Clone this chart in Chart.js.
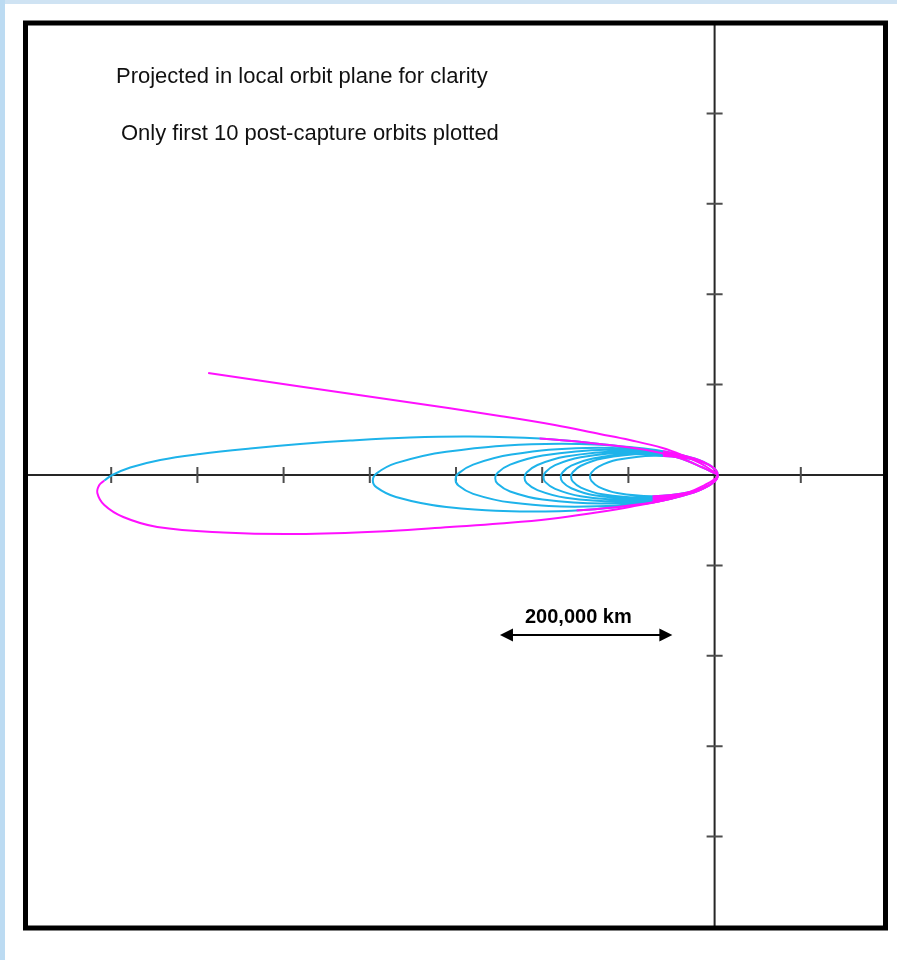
<!DOCTYPE html>
<html>
<head>
<meta charset="utf-8">
<title>Post-capture orbits</title>
<script src="https://cdn.jsdelivr.net/npm/chart.js@4/dist/chart.umd.min.js"></script>
<style>
  html, body { margin: 0; padding: 0; background: #fff; }
  canvas { display: block; }
</style>
</head>
<body>
<canvas id="orbits" width="897" height="960"></canvas>
<script>
// All coordinates in units of 100,000 km, planet centre at the origin.

// Axis tick positions (no labels are drawn)
const xTicks = [-7, -6, -5, -4, -3, -2, -1, 1];
const yTicks = [-4, -3, -2, -1, 1, 2, 3, 4];

// Arrival hyperbola, first periapsis pass and outbound leg of the capture orbit
const arrivalPath = [
  [-5.875, 1.128], [-4.809, 0.979], [-3.650, 0.819], [-2.491, 0.653], [-1.854, 0.553],
  [-1.333, 0.454], [-0.985, 0.387], [-0.603, 0.299], [-0.348, 0.210], [-0.174, 0.133],
  [-0.058, 0.066], [0.035, -0.005], [-0.023, -0.061], [-0.116, -0.111], [-0.290, -0.188],
  [-0.521, -0.265], [-0.985, -0.354], [-1.333, -0.409], [-1.912, -0.487], [-2.491, -0.537],
  [-3.071, -0.575], [-3.766, -0.619], [-4.844, -0.653], [-5.701, -0.636], [-6.466, -0.575],
  [-6.860, -0.465], [-7.080, -0.332], [-7.161, -0.199], [-7.138, -0.111], [-7.080, -0.061]
];

// Return leg of the capture orbit, from apoapsis back to periapsis
const orbit1Return = [
  [-7.080, -0.061], [-6.987, 0.000], [-6.779, 0.083], [-6.431, 0.166], [-5.968, 0.232],
  [-5.388, 0.293], [-4.809, 0.343], [-4.229, 0.382], [-3.534, 0.415], [-2.839, 0.426],
  [-2.028, 0.404], [-1.333, 0.343], [-0.788, 0.277], [-0.406, 0.188], [-0.139, 0.083],
  [-0.023, 0.028], [0.035, 0.000]
];

// Following orbits: outbound (lower) leg to apoapsis, then return (upper) leg to periapsis
const orbit2 = [
  [-0.009, -0.078], [-0.233, -0.191], [-0.818, -0.318], [-1.965, -0.403], [-3.112, -0.353],
  [-3.697, -0.243], [-3.921, -0.137], [-3.965, -0.060],
  [-3.921, 0.018], [-3.697, 0.131], [-3.112, 0.258], [-1.965, 0.343], [-0.818, 0.293],
  [-0.233, 0.183], [-0.009, 0.077], [0.035, 0.000]
];
const orbit3 = [
  [0.002, -0.068], [-0.169, -0.165], [-0.613, -0.276], [-1.485, -0.349], [-2.357, -0.305],
  [-2.801, -0.209], [-2.972, -0.117], [-3.005, -0.050],
  [-2.972, 0.018], [-2.801, 0.115], [-2.357, 0.226], [-1.485, 0.299], [-0.613, 0.255],
  [-0.169, 0.159], [0.002, 0.067], [0.035, 0.000]
];
const orbit4 = [
  [0.007, -0.062], [-0.138, -0.151], [-0.515, -0.252], [-1.255, -0.316], [-1.995, -0.272],
  [-2.372, -0.183], [-2.517, -0.098], [-2.545, -0.036],
  [-2.517, 0.026], [-2.372, 0.115], [-1.995, 0.216], [-1.255, 0.280], [-0.515, 0.236],
  [-0.138, 0.147], [0.007, 0.062], [0.035, 0.000]
];
const orbit5 = [
  [0.011, -0.058], [-0.115, -0.141], [-0.443, -0.234], [-1.085, -0.293], [-1.727, -0.251],
  [-2.055, -0.167], [-2.181, -0.088], [-2.205, -0.030],
  [-2.181, 0.028], [-2.055, 0.111], [-1.727, 0.204], [-1.085, 0.263], [-0.443, 0.221],
  [-0.115, 0.137], [0.011, 0.058], [0.035, 0.000]
];
const orbit6 = [
  [0.013, -0.055], [-0.100, -0.134], [-0.396, -0.221], [-0.975, -0.276], [-1.554, -0.235],
  [-1.850, -0.154], [-1.963, -0.079], [-1.985, -0.024],
  [-1.963, 0.031], [-1.850, 0.110], [-1.554, 0.197], [-0.975, 0.252], [-0.396, 0.211],
  [-0.100, 0.130], [0.013, 0.055], [0.035, 0.000]
];
const orbit7 = [
  [0.015, -0.052], [-0.087, -0.127], [-0.353, -0.210], [-0.875, -0.262], [-1.397, -0.224],
  [-1.663, -0.147], [-1.765, -0.076], [-1.785, -0.024],
  [-1.765, 0.028], [-1.663, 0.103], [-1.397, 0.186], [-0.875, 0.238], [-0.353, 0.200],
  [-0.087, 0.123], [0.015, 0.052], [0.035, 0.000]
];
const orbit8 = [
  [0.016, -0.050], [-0.079, -0.122], [-0.327, -0.202], [-0.815, -0.251], [-1.303, -0.213],
  [-1.551, -0.139], [-1.646, -0.070], [-1.665, -0.020],
  [-1.646, 0.030], [-1.551, 0.102], [-1.303, 0.182], [-0.815, 0.231], [-0.327, 0.193],
  [-0.079, 0.119], [0.016, 0.050], [0.035, 0.000]
];
const orbit9 = [
  [0.019, -0.047], [-0.064, -0.113], [-0.281, -0.188], [-0.705, -0.234], [-1.130, -0.199],
  [-1.346, -0.131], [-1.429, -0.066], [-1.445, -0.020],
  [-1.429, 0.027], [-1.346, 0.093], [-1.130, 0.168], [-0.705, 0.214], [-0.281, 0.179],
  [-0.064, 0.111], [0.019, 0.046], [0.035, 0.000]
];

const BLUE = '#1eb3ea';
const MAGENTA = '#ff10ff';

const toPoints = arr => arr.map(([x, y]) => ({ x, y }));
const laterOrbits = [orbit2, orbit3, orbit4, orbit5, orbit6, orbit7, orbit8, orbit9];
const postCaptureTrack = orbit1Return.concat(...laterOrbits);
// Periapsis passages highlighted on top of the track
const firstPass = orbit1Return.concat(orbit2.slice(0, 8));
const laterPasses = orbit2.slice(8).concat(...laterOrbits.slice(1));

const lineStyle = {
  showLine: true, pointRadius: 0, pointHoverRadius: 0,
  borderWidth: 2, tension: 0.4, fill: false
};

// Restrict a dataset to the region right of its window edges (upper / lower half)
const passWindow = {
  id: 'passWindow',
  beforeDatasetDraw(chart, args) {
    const w = chart.data.datasets[args.index].passWindow;
    if (!w) return;
    const { ctx, chartArea: a, scales: { x, y } } = chart;
    const y0 = y.getPixelForValue(0);
    const xu = x.getPixelForValue(w[0]);
    const xl = x.getPixelForValue(w[1]);
    ctx.save();
    ctx.beginPath();
    ctx.rect(xu, a.top, a.right - xu, y0 - a.top);
    ctx.rect(xl, y0, a.right - xl, a.bottom - y0);
    ctx.clip();
  },
  afterDatasetDraw(chart, args) {
    if (chart.data.datasets[args.index].passWindow) chart.ctx.restore();
  }
};

// Page background, axes through the origin, tick marks
const axesThroughOrigin = {
  id: 'axesThroughOrigin',
  beforeDraw(chart) {
    const ctx = chart.ctx;
    ctx.save();
    ctx.fillStyle = '#ffffff';
    ctx.fillRect(0, 0, chart.width, chart.height);
    ctx.fillStyle = '#cfe3f3';
    ctx.fillRect(0, 0, chart.width, 4);
    ctx.fillStyle = '#bcdbf2';
    ctx.fillRect(0, 0, 5, chart.height);
    ctx.restore();
  },
  beforeDatasetsDraw(chart) {
    const { ctx, chartArea: a, scales: { x, y } } = chart;
    const x0 = x.getPixelForValue(0);
    const y0 = y.getPixelForValue(0);
    ctx.save();
    ctx.strokeStyle = '#262626';
    ctx.lineWidth = 2;
    ctx.beginPath();
    ctx.moveTo(a.left, y0); ctx.lineTo(a.right, y0);
    ctx.moveTo(x0, a.top); ctx.lineTo(x0, a.bottom);
    ctx.stroke();
    ctx.strokeStyle = '#4d4d4d';
    ctx.beginPath();
    xTicks.forEach(v => {
      const px = x.getPixelForValue(v);
      ctx.moveTo(px, y0 - 8); ctx.lineTo(px, y0 + 8);
    });
    yTicks.forEach(v => {
      const py = y.getPixelForValue(v);
      ctx.moveTo(x0 - 8, py); ctx.lineTo(x0 + 8, py);
    });
    ctx.stroke();
    ctx.restore();
  },
  afterDraw(chart) {
    const { ctx, chartArea: a, scales: { x, y } } = chart;
    ctx.save();
    // heavy plot frame
    ctx.strokeStyle = '#000';
    ctx.lineWidth = 5;
    ctx.strokeRect(a.left + 0.5, a.top, a.right - a.left - 2, a.bottom - a.top + 1);

    // notes
    ctx.fillStyle = '#111';
    ctx.font = '22px "Liberation Sans", Arial, sans-serif';
    ctx.textBaseline = 'alphabetic';
    ctx.textAlign = 'left';
    ctx.fillText('Projected in local orbit plane for clarity', 116, 83);
    ctx.fillText('Only first 10 post-capture orbits plotted', 121, 140);

    // 200,000 km scale bar
    const xl = x.getPixelForValue(-2.49);
    const xr = x.getPixelForValue(-0.49);
    const yb = Math.round(y.getPixelForValue(-1.77));
    ctx.strokeStyle = '#000';
    ctx.fillStyle = '#000';
    ctx.lineWidth = 2;
    ctx.beginPath();
    ctx.moveTo(xl + 8, yb); ctx.lineTo(xr - 8, yb);
    ctx.stroke();
    ctx.beginPath();
    ctx.moveTo(xl, yb); ctx.lineTo(xl + 13, yb - 6.5); ctx.lineTo(xl + 13, yb + 6.5); ctx.closePath();
    ctx.moveTo(xr, yb); ctx.lineTo(xr - 13, yb - 6.5); ctx.lineTo(xr - 13, yb + 6.5); ctx.closePath();
    ctx.fill();
    ctx.font = 'bold 20px "Liberation Sans", Arial, sans-serif';
    ctx.fillText('200,000 km', xl + 25, yb - 12);
    ctx.restore();
  }
};

new Chart(document.getElementById('orbits'), {
  type: 'scatter',
  data: {
    datasets: [
      Object.assign({ label: 'Post-capture orbits', data: toPoints(postCaptureTrack),
        borderColor: BLUE, order: 2 }, lineStyle),
      Object.assign({ label: 'Arrival and capture', data: toPoints(arrivalPath),
        borderColor: MAGENTA, order: 1 }, lineStyle),
      Object.assign({ label: 'First periapsis pass', data: toPoints(firstPass),
        borderColor: MAGENTA, order: 1, passWindow: [-2.03, -1.6] }, lineStyle),
      Object.assign({ label: 'Later periapsis passes', data: toPoints(laterPasses),
        borderColor: MAGENTA, order: 1, passWindow: [-0.6, -0.72] }, lineStyle)
    ]
  },
  options: {
    responsive: false,
    animation: false,
    events: [],
    layout: { padding: { left: 25, right: 10, top: 23, bottom: 33 } },
    scales: {
      x: { type: 'linear', min: -8, max: 2, display: false },
      y: { type: 'linear', min: -5, max: 5, display: false }
    },
    plugins: { legend: { display: false }, tooltip: { enabled: false } }
  },
  plugins: [passWindow, axesThroughOrigin]
});
</script>
</body>
</html>
